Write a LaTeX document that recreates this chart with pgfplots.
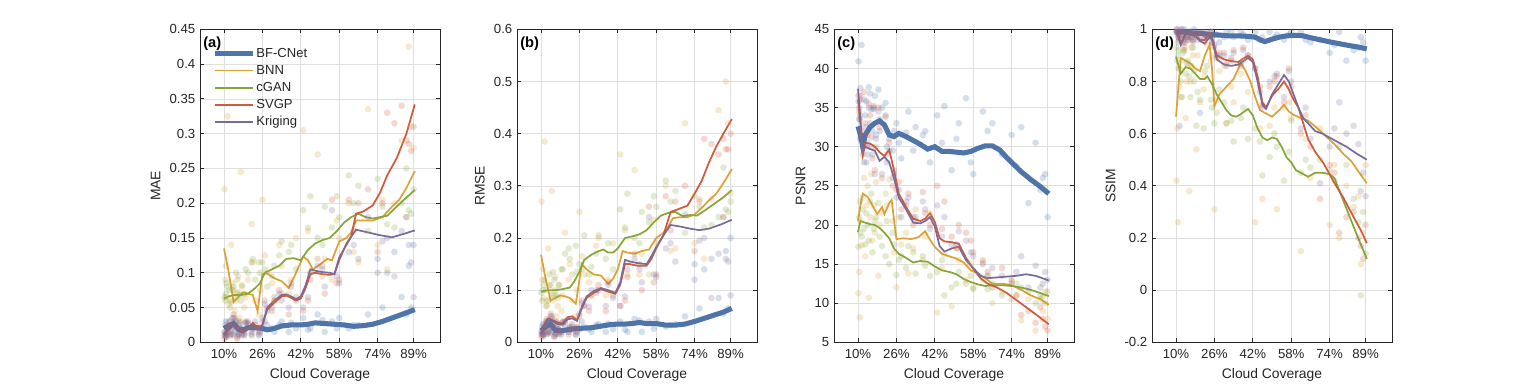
\documentclass[border=0pt]{standalone}
\usepackage{fontspec}
\setmainfont{Liberation Sans}
\usepackage{pgfplots}
\pgfplotsset{compat=1.18}
\usepackage{pgfplotstable}

\definecolor{colA}{RGB}{79,116,170}
\definecolor{colB}{RGB}{221,162,55}
\definecolor{colC}{RGB}{133,167,58}
\definecolor{colD}{RGB}{208,90,60}
\definecolor{colE}{RGB}{120,108,155}
\definecolor{axc}{RGB}{38,38,38}
\definecolor{gridc}{RGB}{223,223,223}

\newcommand\tickfont{\fontsize{9.9pt}{11pt}\selectfont}
\newcommand\labfont{\fontsize{10.4pt}{12pt}\selectfont}
\newcommand\legfont{\fontsize{9.8pt}{11pt}\selectfont}

\tikzset{
  plabel/.style={anchor=north west, inner sep=0pt, font=\fontsize{11pt}{12pt}\selectfont\bfseries, text=black},
}
\pgfplotsset{
  panel/.style={
    scale only axis, width=180pt, height=234.75pt,
    xmin=0, xmax=100,
    xtick={10,26,42,58,74,89},
    xticklabels={10\%,26\%,42\%,58\%,74\%,89\%},
    grid=major, major grid style={draw=gridc, line width=0.5pt},
    axis line style={draw=axc, line width=0.6pt},
    every tick/.style={draw=axc, line width=0.6pt},
    tick align=inside, major tick length=3pt,
    ticklabel style={font=\tickfont, text=axc},
    xticklabel style={yshift=-2pt},
    label style={font=\labfont, text=axc},
    xlabel={Cloud Coverage},
    /pgf/number format/assume math mode=true,
    scaled y ticks=false,
    yticklabel style={/pgf/number format/fixed, /pgf/number format/precision=2},
    anchor=south west,
  },
  sc/.style={only marks, mark=*, mark size=2.5pt, mark options={draw opacity=0, fill opacity=0.24}, forget plot},
  thick line/.style={line width=3.8pt},
  thin line/.style={line width=1.3pt},
}

% scatter data: x, BF-CNet, BNN, cGAN, SVGP, Kriging
\pgfplotstableread{
x bf bnn cgan svgp krig
10.2 0.015 0.22 0.065 0.005 0.01
10.5 0.025 0.09 0.06 0.015 0.01
10.8 0.03 0.11 0.07 0.012 0.008
11 0.012 0.065 0.085 0.008 0.01
11.5 0.02 0.325 0.08 0.02 0.015
12 0.03 0.055 0.075 0.025 0.022
12.5 0.01 0.06 0.05 0.03 0.025
13 0.018 0.14 0.058 0.012 0.015
13.5 0.035 0.085 0.075 0.01 0.012
14 0.022 0.075 0.08 0.04 0.035
14.5 0.025 0.045 0.065 0.035 0.03
15 0.03 0.06 0.1 0.022 0.02
15.5 0.015 0.07 0.09 0.005 0.008
16 0.012 0.095 0.072 0.01 0.012
16.5 0.025 0.035 0.068 0.03 0.028
17 0.02 0.245 0.06 0.02 0.018
17.5 0.018 0.08 0.082 0.012 0.01
18.5 0.01 0.05 0.07 0.015 0.012
19 0.028 0.065 0.105 0.028 0.03
20 0.025 0.09 0.1 0.03 0.028
21.5 0.015 0.17 0.115 0.01 0.012
22 0.02 0.115 0.12 0.02 0.022
23 0.03 0.06 0.09 0.025 0.02
24.5 0.012 0.04 0.115 0.015 0.01
25 0.015 0.075 0.1 0.022 0.02
26 0.02 0.205 0.115 0.03 0.035
27 0.03 0.125 0.105 0.06 0.055
28 0.025 0.1 0.08 0.05 0.045
30 0.02 0.085 0.095 0.045 0.05
31 0.015 0.06 0.11 0.06 0.065
33 0.025 0.14 0.125 0.075 0.07
34 0.03 0.11 0.145 0.07 0.06
37 0.015 0.07 0.13 0.04 0.05
38 0.028 0.09 0.14 0.085 0.08
40 0.02 0.15 0.105 0.065 0.06
43 0.035 0.305 0.19 0.045 0.05
45 0.018 0.16 0.165 0.06 0.065
46 0.02 0.1 0.21 0.09 0.1
49 0.04 0.27 0.15 0.12 0.11
51 0.032 0.095 0.14 0.11 0.105
52 0.015 0.12 0.195 0.07 0.08
55 0.03 0.09 0.165 0.205 0.19
57 0.02 0.175 0.21 0.085 0.095
58 0.035 0.15 0.18 0.09 0.085
62 0.02 0.2 0.24 0.205 0.13
64 0.025 0.13 0.2 0.16 0.14
66 0.025 0.115 0.225 0.2 0.12
70 0.04 0.335 0.16 0.22 0.18
74 0.12 0.14 0.235 0.13 0.1
76 0.05 0.205 0.195 0.2 0.145
78 0.1 0.105 0.17 0.33 0.15
81 0.13 0.2 0.165 0.315 0.095
84 0.065 0.29 0.2 0.34 0.16
86 0.04 0.18 0.25 0.29 0.18
87 0.11 0.425 0.19 0.285 0.14
88 0.05 0.31 0.185 0.275 0.115
89 0.14 0.28 0.22 0.31 0.065
}\tA

\pgfplotstableread{
x bf bnn cgan svgp krig
10.2 0.02 0.27 0.095 0.01 0.015
10.5 0.03 0.12 0.08 0.02 0.015
10.8 0.035 0.14 0.10 0.02 0.015
11 0.015 0.085 0.11 0.012 0.015
11.5 0.03 0.385 0.12 0.03 0.02
12 0.04 0.07 0.1 0.035 0.03
12.5 0.015 0.08 0.07 0.045 0.04
13 0.022 0.18 0.08 0.018 0.02
13.5 0.04 0.11 0.13 0.02 0.018
14 0.028 0.1 0.11 0.055 0.05
14.5 0.03 0.29 0.09 0.05 0.045
15 0.04 0.08 0.135 0.03 0.028
15.5 0.02 0.09 0.12 0.01 0.012
16 0.015 0.125 0.1 0.015 0.018
16.5 0.032 0.05 0.09 0.04 0.038
17 0.025 0.07 0.085 0.03 0.025
17.5 0.024 0.11 0.11 0.018 0.015
18.5 0.015 0.06 0.14 0.02 0.02
19 0.036 0.09 0.14 0.038 0.04
20 0.03 0.21 0.17 0.04 0.04
21.5 0.02 0.12 0.18 0.015 0.02
22 0.026 0.15 0.16 0.028 0.03
23 0.035 0.08 0.13 0.03 0.025
24.5 0.015 0.05 0.185 0.02 0.015
25 0.02 0.1 0.135 0.03 0.028
26 0.025 0.25 0.15 0.05 0.055
27 0.04 0.165 0.14 0.08 0.075
28 0.03 0.13 0.205 0.07 0.07
30 0.026 0.115 0.13 0.06 0.068
31 0.02 0.09 0.145 0.09 0.1
33 0.033 0.185 0.17 0.1 0.095
34 0.035 0.2 0.205 0.11 0.1
37 0.02 0.09 0.16 0.06 0.07
38 0.036 0.12 0.19 0.115 0.11
40 0.025 0.19 0.14 0.09 0.085
43 0.04 0.36 0.255 0.07 0.07
45 0.024 0.215 0.22 0.08 0.088
46 0.02 0.13 0.285 0.125 0.14
49 0.045 0.33 0.2 0.17 0.16
51 0.042 0.13 0.19 0.15 0.14
52 0.02 0.17 0.25 0.1 0.115
55 0.04 0.13 0.23 0.26 0.24
57 0.026 0.235 0.28 0.115 0.13
58 0.045 0.19 0.26 0.13 0.125
62 0.03 0.3 0.31 0.28 0.18
64 0.033 0.175 0.27 0.215 0.19
66 0.035 0.18 0.29 0.27 0.155
70 0.05 0.42 0.21 0.30 0.245
74 0.15 0.19 0.28 0.175 0.12
76 0.065 0.275 0.26 0.27 0.195
78 0.14 0.16 0.22 0.39 0.2
81 0.16 0.275 0.225 0.38 0.085
84 0.085 0.445 0.24 0.36 0.17
86 0.055 0.24 0.335 0.39 0.24
87 0.175 0.5 0.255 0.37 0.16
88 0.065 0.42 0.25 0.37 0.155
89 0.2 0.285 0.27 0.40 0.09
}\tB

\pgfplotstableread{
x bf bnn cgan svgp krig
10.2 40.9 11.3 17.2 35.8 36.5
10.5 33.5 14.0 21.0 34.5 35.0
10.8 31.0 8.2 23.0 33.5 34.0
11 36.0 20.5 19.0 36.5 37.5
11.5 43.0 17.4 18.5 32.0 31.0
12 30.5 23.5 22.0 29.0 30.0
12.5 28.0 26.0 19.5 37.0 36.0
13 34.0 16.0 17.5 33.0 32.5
13.5 35.8 22.5 21.5 30.0 28.0
14 29.0 25.0 20.0 31.5 30.5
14.5 37.6 10.7 18.0 35.5 35.0
15 36.8 21.0 23.0 34.0 33.0
15.5 34.8 26.5 24.0 31.2 30.0
16 32.0 18.0 16.5 28.5 29.0
16.5 34.8 22.5 19.5 35.2 35.0
17 36.5 19.0 20.5 27.0 26.5
17.5 31.5 25.5 21.0 30.0 31.0
18.5 37.3 13.5 22.8 35.0 34.5
19 33.5 20.0 18.5 32.5 32.0
20 35.0 21.5 17.3 26.0 26.5
21.5 35.6 24.0 16.0 33.8 34.0
22 30.0 22.5 20.5 29.0 28.0
23 31.0 25.8 15.0 30.5 29.5
24.5 29.5 20.5 19.0 25.0 26.0
25 32.0 16.5 17.5 27.0 26.5
26 33.0 12.0 13.6 24.5 23.5
27 30.5 21.0 15.5 25.5 24.5
28 28.5 17.5 16.0 22.0 21.0
30 31.8 19.0 14.5 22.5 23.0
31 34.5 13.8 17.3 24.0 23.5
33 29.5 17.0 16.5 20.0 21.0
34 32.5 22.0 13.8 21.0 20.5
37 31.5 15.5 16.0 24.2 23.0
38 32.0 18.5 14.8 21.5 22.0
40 28.0 21.5 13.5 20.0 19.5
43 34.0 8.8 14.0 25.0 22.5
45 30.5 14.5 15.5 19.5 18.5
46 35.2 16.3 11.0 23.0 21.0
49 27.0 9.6 12.0 18.5 17.5
51 31.0 17.0 12.5 17.0 17.5
52 33.0 15.5 14.0 20.0 19.2
55 36.2 13.0 12.5 19.0 18.0
57 28.0 15.0 13.5 18.0 16.5
58 26.5 12.0 11.8 16.5 16.0
62 34.5 15.2 13.0 15.5 15.0
64 32.0 13.5 11.8 14.0 13.5
66 33.0 10.0 12.5 12.0 14.5
70 29.0 11.5 11.0 14.5 13.5
74 31.5 12.8 10.5 13.0 12.5
76 27.5 11.0 12.5 11.0 14.0
78 32.5 7.8 12.0 8.5 16.0
81 22.8 10.5 11.5 9.0 12.0
84 30.5 6.5 10.0 7.5 14.8
86 24.5 10.5 11.0 9.5 12.0
87 26.0 9.0 10.8 8.0 12.5
88 26.5 11.5 10.0 7.0 14.0
89 21.0 8.0 11.5 6.5 13.0
}\tC

\pgfplotstableread{
x bf bnn cgan svgp krig
10.2 0.99 0.42 0.93 1.0 0.99
10.5 0.99 0.62 0.88 0.99 1.0
10.8 0.95 0.26 0.9 0.98 0.985
11 0.97 0.85 0.92 0.97 0.99
11.5 0.63 0.78 0.85 0.96 0.97
12 1.0 0.74 0.80 0.99 0.98
12.5 0.98 0.88 0.74 0.99 1.0
13 0.98 0.92 0.91 0.95 0.96
13.5 1.0 0.95 0.92 0.93 0.95
14 0.99 0.66 0.83 0.98 0.99
14.5 0.97 0.80 0.87 0.97 0.975
15 0.96 0.86 0.88 0.96 0.97
15.5 0.99 0.38 0.82 0.99 0.99
16 0.99 0.80 0.74 0.99 0.99
16.5 0.97 0.93 0.86 0.97 0.98
17 0.96 0.90 0.93 0.95 0.96
17.5 1.0 0.84 0.80 0.98 0.99
18.5 0.99 0.54 0.63 0.98 0.98
19 0.98 0.90 0.76 0.97 0.96
20 0.68 0.72 0.73 0.99 0.985
21.5 0.99 0.77 0.62 0.96 0.97
22 0.99 0.82 0.84 0.98 0.98
23 0.97 0.94 0.86 0.97 0.98
24.5 0.99 0.88 0.73 0.99 0.99
25 0.97 0.90 0.70 0.95 0.95
26 0.98 0.31 0.64 0.93 0.94
27 0.98 0.73 0.68 0.89 0.90
28 0.95 0.84 0.77 0.90 0.91
30 0.97 0.86 0.72 0.91 0.90
31 0.99 0.64 0.64 0.87 0.86
33 0.99 0.78 0.65 0.88 0.89
34 0.97 0.72 0.57 0.92 0.91
37 0.99 0.83 0.66 0.86 0.87
38 0.98 0.88 0.70 0.93 0.92
40 0.96 0.76 0.58 0.90 0.90
43 0.99 0.26 0.62 0.85 0.85
45 0.96 0.62 0.57 0.78 0.76
46 0.97 0.35 0.44 0.71 0.70
49 0.99 0.63 0.51 0.78 0.80
51 0.97 0.70 0.60 0.80 0.82
52 0.98 0.31 0.55 0.82 0.83
55 0.96 0.70 0.42 0.72 0.74
57 0.98 0.72 0.53 0.85 0.84
58 0.99 0.66 0.65 0.78 0.80
62 0.99 0.15 0.45 0.60 0.62
64 0.96 0.58 0.50 0.67 0.70
66 0.95 0.43 0.47 0.55 0.58
70 0.96 0.62 0.50 0.35 0.41
74 0.91 0.25 0.46 0.48 0.55
76 0.94 0.48 0.42 0.45 0.62
78 0.99 0.20 0.55 0.22 0.72
81 0.88 0.40 0.48 0.28 0.60
84 0.92 0.32 0.35 0.30 0.63
86 0.93 0.36 0.26 0.20 0.56
87 0.97 0.10 -0.02 0.17 0.38
88 0.95 0.22 0.30 0.12 0.45
89 0.88 0.48 0.14 0.25 0.36
}\tD

\begin{document}
\begin{tikzpicture}
\path[use as bounding box] (0,0) rectangle (1153.5pt,288.75pt);

% ---------------- (a) MAE ----------------
\begin{axis}[panel, at={(150pt,32pt)},
  ymin=0, ymax=0.45, ytick={0,0.05,...,0.45}, ylabel={MAE},
  legend style={at={(0.035,0.955)}, anchor=north west, draw=none, fill=none,
    font=\legfont, row sep=2pt,
    nodes={inner sep=0.5pt, text height=7.5pt, text depth=2.3pt, text=axc}},
  legend cell align=left,
  legend image code/.code={\draw[#1] (0pt,0pt) -- (28.5pt,0pt);},
]
\addplot[sc, colA] table[x=x,y=bf] {\tA};
\addplot[sc, colB] table[x=x,y=bnn] {\tA};
\addplot[sc, colC] table[x=x,y=cgan] {\tA};
\addplot[sc, colD] table[x=x,y=svgp] {\tA};
\addplot[sc, colE] table[x=x,y=krig] {\tA};
\addplot[colA, thick line] coordinates {(10,0.020)(12,0.024)(14,0.027)(16,0.019)(18,0.018)(20,0.021)(23,0.0215)(26,0.020)(28,0.018)(31,0.020)(34,0.0235)(38,0.025)(42,0.025)(45,0.026)(48,0.028)(52,0.027)(56,0.026)(60,0.025)(64,0.023)(68,0.024)(72,0.026)(76,0.030)(80,0.035)(84,0.040)(89.5,0.047)};
\addlegendentry{BF-CNet}
\addplot[colB, thin line] coordinates {(10,0.135)(12,0.10)(14,0.058)(16,0.065)(18,0.072)(20,0.070)(22,0.068)(24,0.045)(26,0.098)(28,0.099)(31,0.092)(34,0.088)(37,0.078)(40,0.100)(43,0.123)(45,0.118)(47,0.105)(50,0.112)(53,0.120)(55,0.118)(58,0.145)(61,0.150)(63,0.158)(65,0.175)(68,0.175)(72,0.175)(76,0.180)(80,0.195)(83,0.205)(86,0.222)(89.5,0.246)};
\addlegendentry{BNN}
\addplot[colC, thin line] coordinates {(10,0.063)(12,0.066)(14,0.068)(17,0.068)(20,0.070)(23,0.078)(25,0.085)(27,0.100)(30,0.105)(33,0.110)(36,0.120)(39,0.121)(42,0.118)(45,0.133)(48,0.142)(51,0.147)(54,0.150)(57,0.160)(60,0.172)(63,0.180)(66,0.185)(69,0.180)(72,0.178)(75,0.180)(78,0.182)(81,0.192)(85,0.205)(89.5,0.219)};
\addlegendentry{cGAN}
\addplot[colD, thin line] coordinates {(10,0.012)(12,0.020)(14,0.026)(16,0.018)(18,0.015)(20,0.020)(22,0.028)(24,0.020)(26,0.025)(28,0.047)(31,0.057)(34,0.066)(36,0.067)(38,0.064)(40,0.060)(42,0.063)(44,0.078)(46,0.098)(48,0.100)(51,0.098)(54,0.097)(56,0.098)(58,0.118)(61,0.142)(63,0.152)(65,0.185)(68,0.188)(72,0.197)(75,0.215)(78,0.240)(82,0.265)(86,0.300)(89.5,0.342)};
\addlegendentry{SVGP}
\addplot[colE, thin line] coordinates {(10,0.010)(12,0.018)(14,0.025)(16,0.016)(18,0.014)(20,0.019)(22,0.026)(24,0.018)(26,0.024)(28,0.050)(31,0.060)(34,0.068)(36,0.069)(38,0.066)(40,0.062)(42,0.066)(44,0.082)(46,0.105)(48,0.103)(51,0.101)(54,0.100)(56,0.098)(58,0.122)(61,0.140)(63,0.152)(65,0.162)(70,0.158)(75,0.154)(80,0.151)(85,0.156)(89.5,0.161)};
\addlegendentry{Kriging}
\node[plabel] at (rel axis cs:0.0125,0.978) {(a)};
\end{axis}

% ---------------- (b) RMSE ----------------
\begin{axis}[panel, at={(387.75pt,32pt)},
  ymin=0, ymax=0.6, ytick={0,0.1,...,0.6}, ylabel={RMSE}]
\addplot[sc, colA] table[x=x,y=bf] {\tB};
\addplot[sc, colB] table[x=x,y=bnn] {\tB};
\addplot[sc, colC] table[x=x,y=cgan] {\tB};
\addplot[sc, colD] table[x=x,y=svgp] {\tB};
\addplot[sc, colE] table[x=x,y=krig] {\tB};
\addplot[colA, thick line] coordinates {(10,0.022)(12,0.030)(14,0.035)(16,0.023)(18,0.022)(21,0.024)(24,0.026)(27,0.027)(31,0.028)(35,0.031)(39,0.034)(42,0.035)(45,0.035)(48,0.036)(51,0.038)(54,0.036)(58,0.036)(62,0.033)(66,0.033)(70,0.035)(74,0.040)(78,0.046)(82,0.052)(86,0.058)(89.5,0.065)};
\addplot[colB, thin line] coordinates {(10,0.168)(12,0.12)(14,0.080)(16,0.085)(18,0.090)(20,0.088)(22,0.085)(24.5,0.074)(27,0.150)(29,0.140)(32,0.130)(35,0.128)(38,0.112)(40,0.122)(42,0.140)(44,0.175)(46,0.172)(49,0.170)(52,0.175)(55,0.178)(58,0.200)(61,0.210)(63,0.222)(65,0.238)(68,0.240)(71,0.240)(74,0.245)(77,0.258)(80,0.272)(83,0.285)(86,0.305)(89.5,0.332)};
\addplot[colC, thin line] coordinates {(10,0.097)(13,0.100)(16,0.100)(19,0.102)(22,0.105)(24,0.118)(26,0.135)(28,0.158)(31,0.168)(34,0.175)(36,0.178)(38,0.172)(40,0.172)(42,0.180)(45,0.200)(48,0.203)(51,0.207)(54,0.215)(57,0.230)(60,0.243)(63,0.248)(66,0.250)(69,0.242)(72,0.244)(75,0.243)(78,0.252)(82,0.265)(86,0.278)(89.5,0.292)};
\addplot[colD, thin line] coordinates {(10,0.018)(12,0.040)(13,0.046)(15,0.042)(17,0.038)(19,0.036)(21,0.048)(23,0.050)(25,0.043)(27,0.065)(29,0.085)(32,0.095)(35,0.102)(38,0.097)(41,0.093)(43,0.110)(45,0.150)(47,0.150)(50,0.147)(54,0.147)(56,0.160)(58,0.180)(61,0.205)(64,0.250)(67,0.255)(71,0.262)(74,0.285)(77,0.310)(80,0.345)(83,0.375)(86,0.400)(89.5,0.428)};
\addplot[colE, thin line] coordinates {(10,0.016)(12,0.036)(13,0.042)(15,0.040)(17,0.035)(19,0.034)(21,0.044)(23,0.046)(25,0.041)(27,0.068)(29,0.088)(32,0.098)(35,0.104)(38,0.100)(41,0.095)(43,0.115)(45,0.158)(47,0.155)(50,0.152)(54,0.150)(56,0.165)(58,0.183)(61,0.205)(64,0.225)(68,0.222)(72,0.218)(76,0.215)(80,0.218)(85,0.226)(89.5,0.235)};
\node[plabel] at (rel axis cs:0.0125,0.978) {(b)};
\end{axis}

% ---------------- (c) PSNR ----------------
\begin{axis}[panel, at={(625.5pt,32pt)},
  ymin=5, ymax=45, ytick={5,10,...,45}, ylabel={PSNR}]
\addplot[sc, colA] table[x=x,y=bf] {\tC};
\addplot[sc, colB] table[x=x,y=bnn] {\tC};
\addplot[sc, colC] table[x=x,y=cgan] {\tC};
\addplot[sc, colD] table[x=x,y=svgp] {\tC};
\addplot[sc, colE] table[x=x,y=krig] {\tC};
\addplot[colA, thick line] coordinates {(10,32.6)(11,31.5)(12,30.0)(13,31.5)(15,32.5)(17,33.0)(19,33.3)(21,32.8)(23,31.5)(25,31.3)(27,31.7)(30,31.3)(33,30.8)(36,30.3)(39,29.7)(42,30.0)(45,29.4)(48,29.4)(51,29.3)(54,29.2)(57,29.4)(60,29.8)(63,30.1)(66,30.1)(69,29.6)(72,28.6)(75,27.7)(78,26.8)(82,25.8)(86,24.9)(89.5,24.0)};
\addplot[colB, thin line] coordinates {(10,20.5)(11,22.5)(12,24.0)(14,23.6)(16,22.5)(18,21.4)(20,22.3)(21,21.4)(23,22.8)(24,23.2)(26,18.2)(29,18.3)(32,18.2)(35,18.4)(38,19.2)(40,18.1)(42,17.2)(45,16.3)(48,16.0)(51,15.7)(54,15.2)(57,14.2)(60,13.8)(63,13.2)(66,12.5)(70,12.5)(74,12.3)(78,11.7)(82,11.0)(86,10.5)(89.5,9.8)};
\addplot[colC, thin line] coordinates {(10,19.1)(11,20.5)(13,20.3)(15,20.1)(17,20.0)(19,19.6)(21,19.0)(23,18.3)(25,17.0)(27,16.3)(30,15.8)(33,15.2)(36,15.4)(39,15.3)(42,14.7)(45,14.2)(48,14.0)(51,13.7)(54,13.1)(57,12.7)(60,12.4)(63,12.2)(66,12.3)(70,12.3)(74,12.2)(78,12.0)(82,11.7)(86,11.3)(89.5,10.9)};
\addplot[colD, thin line] coordinates {(10,36.0)(11,33)(12,29.0)(13,30.5)(15,30.4)(17,30.0)(19,29.3)(21,28.8)(23,29.6)(25,27.0)(27,24.0)(30,22.3)(33,20.8)(36,20.5)(38,20.8)(40,21.5)(42,20.4)(44,18.3)(46,17.9)(49,17.8)(52,17.6)(55,15.8)(58,14.4)(61,13.2)(64,12.5)(68,12.0)(72,11.3)(76,10.4)(80,9.5)(84,8.6)(89.5,7.3)};
\addplot[colE, thin line] coordinates {(10,37.4)(11,33.5)(12,29.5)(13,30.0)(15,29.7)(17,29.5)(19,28.2)(21,28.7)(23,28.0)(25,26.0)(27,23.5)(30,22.0)(33,20.3)(36,20.2)(38,20.5)(40,21.0)(42,19.8)(44,17.3)(46,16.6)(49,17.0)(52,17.2)(55,15.5)(58,14.5)(61,13.5)(64,13.2)(68,13.3)(72,13.4)(76,13.5)(80,13.7)(84,13.5)(89.5,12.9)};
\node[plabel] at (rel axis cs:0.0125,0.978) {(c)};
\end{axis}

% ---------------- (d) SSIM ----------------
\begin{axis}[panel, at={(864pt,32pt)},
  ymin=-0.2, ymax=1, ytick={-0.2,0,0.2,0.4,0.6,0.8,1}, ylabel={SSIM}]
\addplot[sc, colA] table[x=x,y=bf] {\tD};
\addplot[sc, colB] table[x=x,y=bnn] {\tD};
\addplot[sc, colC] table[x=x,y=cgan] {\tD};
\addplot[sc, colD] table[x=x,y=svgp] {\tD};
\addplot[sc, colE] table[x=x,y=krig] {\tD};
\addplot[colA, thick line] coordinates {(10,0.995)(12,0.99)(14,0.99)(17,0.985)(20,0.985)(24,0.98)(28,0.978)(32,0.975)(36,0.975)(40,0.973)(43,0.97)(45,0.96)(47,0.953)(50,0.962)(53,0.97)(56,0.975)(60,0.977)(63,0.975)(66,0.968)(70,0.96)(74,0.952)(78,0.945)(82,0.938)(86,0.932)(89.5,0.925)};
\addplot[colB, thin line] coordinates {(10,0.665)(11,0.78)(12,0.89)(14,0.88)(16,0.87)(18,0.85)(20,0.84)(22,0.90)(24,0.94)(25,0.85)(26,0.705)(28,0.75)(31,0.78)(34,0.81)(37,0.87)(39,0.84)(41,0.80)(43,0.74)(45,0.69)(47,0.68)(50,0.665)(53,0.69)(55,0.71)(57,0.685)(59,0.672)(62,0.66)(65,0.65)(69,0.62)(73,0.585)(76,0.56)(80,0.52)(83,0.495)(86,0.455)(89.5,0.41)};
\addplot[colC, thin line] coordinates {(10,0.895)(12,0.83)(14,0.855)(16,0.85)(18,0.83)(20,0.81)(22,0.81)(23,0.82)(25,0.79)(27,0.75)(29,0.72)(31,0.69)(33,0.67)(35,0.665)(37,0.675)(40,0.695)(42,0.67)(44,0.62)(46,0.585)(48,0.575)(50,0.585)(52,0.58)(54,0.55)(56,0.51)(58,0.49)(60,0.46)(62,0.45)(65,0.435)(68,0.45)(71,0.45)(74,0.445)(76,0.43)(79,0.36)(82,0.29)(85,0.22)(89.5,0.12)};
\addplot[colD, thin line] coordinates {(10,1.0)(11,0.975)(12,0.945)(13,0.965)(14,0.985)(16,0.98)(18,0.975)(20,0.96)(22,0.958)(24,0.985)(25,0.97)(27,0.90)(30,0.885)(33,0.878)(36,0.875)(38,0.888)(40,0.898)(42,0.885)(44,0.82)(46,0.72)(47.5,0.70)(50,0.745)(53,0.775)(55,0.80)(57,0.77)(59,0.73)(61,0.70)(63,0.64)(65,0.58)(68,0.53)(71.5,0.486)(75.7,0.416)(80,0.35)(84,0.28)(87,0.23)(89.5,0.18)};
\addplot[colE, thin line] coordinates {(10,1.0)(11,0.97)(12,0.94)(13,0.96)(14,0.985)(16,0.985)(18,0.975)(20,0.955)(22,0.945)(24,0.97)(25,0.96)(27,0.885)(30,0.865)(33,0.86)(36,0.865)(38,0.878)(40,0.89)(42,0.875)(44,0.80)(46,0.71)(47.5,0.695)(50,0.75)(53,0.795)(55,0.825)(57,0.80)(59,0.75)(61,0.70)(63,0.66)(65,0.64)(68,0.61)(71,0.60)(74,0.585)(77,0.57)(81,0.55)(85,0.525)(89.5,0.50)};
\node[plabel] at (rel axis cs:0.0125,0.978) {(d)};
\end{axis}
\end{tikzpicture}
\end{document}
